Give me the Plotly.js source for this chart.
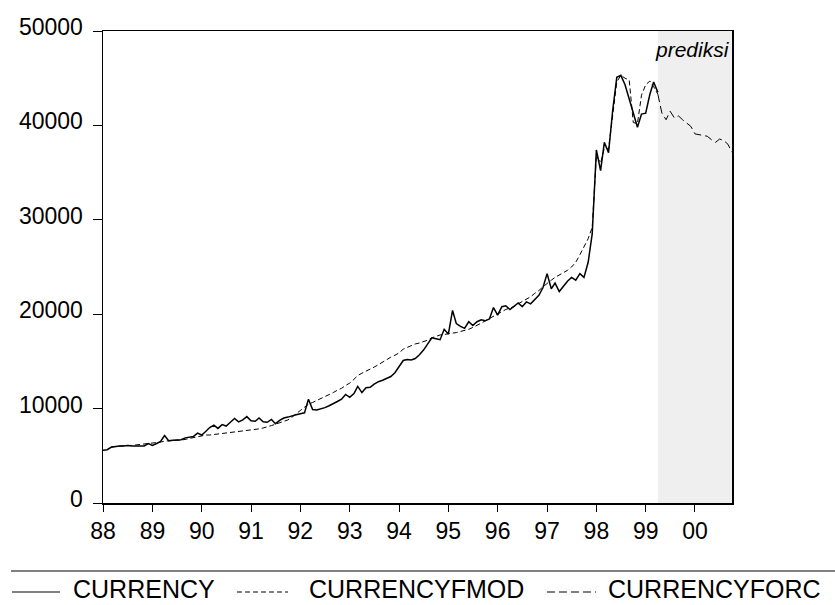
<!DOCTYPE html>
<html>
<head>
<meta charset="utf-8">
<script src="https://cdn.plot.ly/plotly-3.0.1.min.js"></script>
<style>html,body{margin:0;padding:0;background:#fff;}#chart{width:835px;height:605px;}</style>
</head>
<body>
<div id="chart"></div>
<script>
// Monthly observations starting 1988-01
const startYear = 1988;
const nMonths = 154; // 1988:01 .. 2000:10

// CURRENCY (actual), 1988:01 .. 1999:04
const currency = [
  5600, 5650, 5900, 6000, 6050, 6050, 6100, 6050, 6050, 6000, 6050, 6300,
  6100, 6300, 6500, 7150, 6600, 6650, 6650, 6700, 6900, 6950, 7050, 7400,
  7200, 7600, 8000, 8250, 7900, 8300, 8150, 8550, 8950, 8600, 8800, 9150,
  8700, 8650, 9000, 8600, 8550, 8850, 8400, 8750, 9000, 9100, 9250, 9350,
  9450, 9550, 11000, 9900, 9850, 9950, 10100, 10300, 10500, 10750, 11000, 11500,
  11200, 11600, 12350, 11700, 12200, 12250, 12600, 12850, 13000, 13200, 13400, 13800,
  14400, 15100, 15200, 15150, 15300, 15700, 16200, 16800, 17500, 17400, 17300, 18400,
  17900, 20400, 19000, 18700, 18500, 19200, 18800, 19200, 19400, 19300, 19500, 20700,
  19900, 20800, 20900, 20500, 20800, 21200, 20800, 21300, 21100, 21500, 22000, 22800,
  24300, 22700, 23300, 22400, 23000, 23500, 23900, 23600, 24300, 23900, 25500, 28500,
  37400, 35200, 38200, 37100, 41500, 45100, 45300, 44300, 42800, 41300, 39800, 41200,
  41300, 43300, 44600, 43500
];

// CURRENCYFMOD (fitted model), 1988:01 .. 1999:04
const currencyFmod = [
  null, null, 5950, 6000, 6050, 6050, 6100, 6100, 6150, 6150, 6200, 6250,
  6300, 6350, 6450, 6550, 6600, 6600, 6650, 6650, 6750, 6850, 6950, 7050,
  7150, 7200, 7200, 7250, 7300, 7350, 7400, 7450, 7550, 7600, 7650, 7700,
  7750, 7800, 7850, 7950, 8050, 8200, 8350, 8500, 8650, 8800, 9100, 9400,
  9800, 10150, 10450, 10650, 10850, 11050, 11250, 11500, 11700, 11950, 12150, 12450,
  12700, 13100, 13500, 13750, 13950, 14150, 14400, 14650, 14950, 15200, 15450, 15650,
  15900, 16300, 16500, 16700, 16850, 16950, 17100, 17250, 17500, 17650, 17800, 17850,
  17950, 18000, 18050, 18150, 18250, 18400, 18600, 18800, 19050, 19300, 19550, 19850,
  20100, 20300, 20500, 20650, 20800, 21100, 21350, 21600, 21850, 22200, 22500, 22900,
  23300, 23600, 23900, 24150, 24350, 24650, 25000, 25500, 26300, 27200, 28000, 29200,
  36800, 36000, 37600, 37500, 40800, 44600, 45300, 45000, 44800, 40300, 40200, 43200,
  44300, 44700, 44100, 43300
];

// CURRENCYFORC (forecast), 1999:04 .. 2000:10
const forcStartIndex = 135;
const currencyForc = [
  43300, 41300, 40600, 41500, 40800, 41000, 40600, 40200, 39900,
  39100, 39000, 38950, 38850, 38500, 38200, 38550, 38400, 38000, 37150
];

const yearTickLabels = ['88','89','90','91','92','93','94','95','96','97','98','99','00'];
const legendNames = ['CURRENCY', 'CURRENCYFMOD', 'CURRENCYFORC'];
const forecastLabel = 'prediksi';

function monthDate(i) {
  const y = startYear + Math.floor(i / 12);
  const m = (i % 12) + 1;
  return y + '-' + (m < 10 ? '0' + m : m) + '-01';
}
const dates = [];
for (let i = 0; i < nMonths; i++) dates.push(monthDate(i));
const tickVals = yearTickLabels.map((_, k) => (startYear + k) + '-01-01');

const FONT = 'Liberation Sans, Arial, Helvetica, sans-serif';

const traces = [
  {x: dates.slice(0, currency.length), y: currency, name: legendNames[0], type: 'scatter', mode: 'lines',
   line: {color: '#000', width: 1.5}, connectgaps: false},
  {x: dates.slice(0, currencyFmod.length), y: currencyFmod, name: legendNames[1], type: 'scatter', mode: 'lines',
   line: {color: '#000', width: 1, dash: '5px,3px'}, connectgaps: false},
  {x: dates.slice(forcStartIndex, forcStartIndex + currencyForc.length), y: currencyForc, name: legendNames[2],
   type: 'scatter', mode: 'lines', line: {color: '#000', width: 1, dash: '8px,4px'}}
];

// paper-coordinate helpers for the legend block drawn below the plot
const L = 103, R = 732, T = 31, B = 503;
const px = v => (v - L) / (R - L);
const py = v => (B - v) / (B - T);

const shapes = [
  {type: 'rect', xref: 'x', yref: 'paper', x0: monthDate(forcStartIndex), x1: monthDate(nMonths - 1),
   y0: 0, y1: 1, fillcolor: '#efefef', line: {width: 0}, layer: 'below'},
  {type: 'line', xref: 'paper', yref: 'paper', x0: px(11), x1: px(840), y0: py(571), y1: py(571),
   line: {color: '#808080', width: 2}},
  {type: 'line', xref: 'paper', yref: 'paper', x0: px(12), x1: px(60), y0: py(592), y1: py(592),
   line: {color: '#000', width: 1.2}},
  {type: 'line', xref: 'paper', yref: 'paper', x0: px(237), x1: px(288), y0: py(592), y1: py(592),
   line: {color: '#000', width: 1.2, dash: '5px,3px'}},
  {type: 'line', xref: 'paper', yref: 'paper', x0: px(547), x1: px(596), y0: py(592), y1: py(592),
   line: {color: '#000', width: 1.2, dash: '8px,4px'}}
];

const legendFont = {family: FONT, size: 25, color: '#000'};
const annotations = [
  {xref: 'paper', yref: 'paper', x: 1, y: py(49), xanchor: 'right', yanchor: 'middle', showarrow: false,
   text: '<i>' + forecastLabel + '</i>', font: {family: FONT, size: 21, color: '#000'}},
  {xref: 'paper', yref: 'paper', x: px(71), y: py(589), xanchor: 'left', yanchor: 'middle', showarrow: false,
   text: legendNames[0], font: legendFont},
  {xref: 'paper', yref: 'paper', x: px(307), y: py(589), xanchor: 'left', yanchor: 'middle', showarrow: false,
   text: legendNames[1], font: legendFont},
  {xref: 'paper', yref: 'paper', x: px(606), y: py(589), xanchor: 'left', yanchor: 'middle', showarrow: false,
   text: legendNames[2], font: legendFont}
];

const layout = {
  width: 835, height: 605,
  margin: {l: L, r: 835 - R, t: T, b: 605 - B, pad: 0},
  paper_bgcolor: '#fff', plot_bgcolor: '#fff',
  showlegend: false,
  font: {family: FONT, color: '#000'},
  xaxis: {
    type: 'date', range: [dates[0], dates[nMonths - 1]],
    tickmode: 'array', tickvals: tickVals, ticktext: yearTickLabels,
    ticks: 'outside', ticklen: 7, tickwidth: 1, tickcolor: '#000',
    showline: true, mirror: true, linecolor: '#000', linewidth: 1.5,
    showgrid: false, zeroline: false,
    tickfont: {family: FONT, size: 23, color: '#000'}
  },
  yaxis: {
    range: [0, 50000], tickmode: 'linear', tick0: 0, dtick: 10000, tickformat: 'd',
    ticks: 'outside', ticklen: 9, tickwidth: 1, tickcolor: '#000',
    showline: true, mirror: true, linecolor: '#000', linewidth: 1.5,
    showgrid: false, zeroline: false,
    tickfont: {family: FONT, size: 23, color: '#000'},
    ticklabelstandoff: 5, ticklabelshift: -4
  },
  shapes: shapes,
  annotations: annotations
};

Plotly.newPlot('chart', traces, layout, {staticPlot: true, displayModeBar: false});
</script>
</body>
</html>
